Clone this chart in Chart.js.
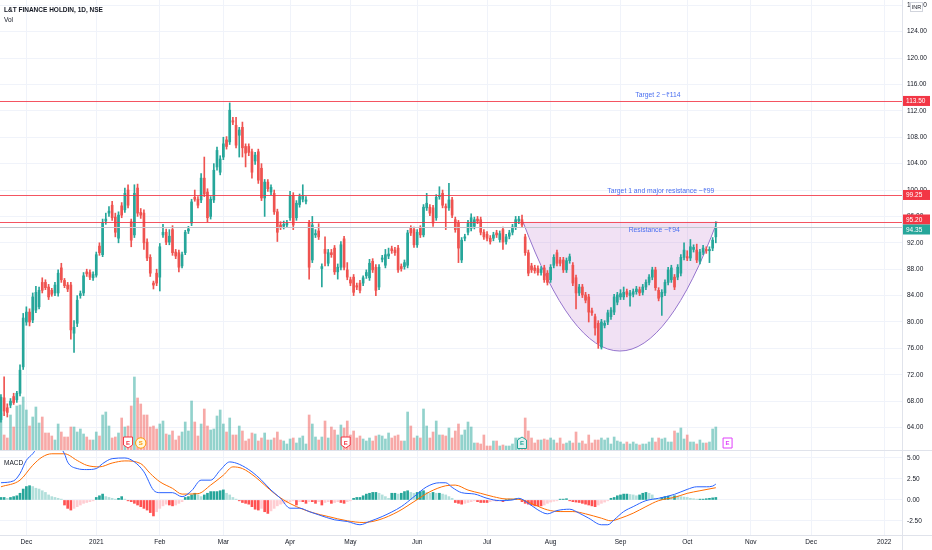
<!DOCTYPE html>
<html>
<head>
<meta charset="utf-8">
<script src="https://cdn.jsdelivr.net/npm/chart.js@4.4.0/dist/chart.umd.min.js"></script>
<style>
  html, body { margin: 0; padding: 0; background: #fff; }
  #wrap { position: relative; width: 932px; height: 550px; overflow: hidden; }
  #priceBox { position: absolute; left: 0; top: 0; width: 932px; height: 450px; }
  #macdBox { position: absolute; left: 0; top: 450px; width: 932px; height: 100px; }
</style>
</head>
<body>
<div id="wrap">
  <div id="priceBox"><canvas id="price"></canvas></div>
  <div id="macdBox"><canvas id="macd"></canvas></div>
</div>
<script>
// L&T Finance Holdings, daily, NSE - candles [open, high, low, close]
const ohlc = [
  [65.2,69.0,64.8,68.6],[68.5,71.7,65.8,66.5],[67.0,67.6,65.6,66.3],[67.4,68.4,67.0,68.0],[68.7,69.2,67.5,67.8],
  [68.2,69.5,67.8,69.2],[69.2,73.5,68.8,72.7],[73.2,81.3,72.8,80.6],[80.0,82.3,79.5,81.5],[81.5,82.0,79.4,80.0],
  [80.3,84.4,79.9,83.8],[81.8,85.4,81.4,84.5],[82.3,85.3,82.0,84.8],[86.0,86.7,84.4,84.8],[86.0,86.4,84.9,85.2],
  [85.3,85.7,83.4,83.8],[84.8,85.1,83.9,84.2],[84.4,86.0,84.0,85.6],[84.4,87.9,83.9,87.4],[88.2,88.9,86.0,86.4],
  [86.3,86.6,85.2,85.5],[85.6,86.0,84.6,85.0],[85.6,86.0,77.4,78.8],[78.3,80.2,75.4,79.2],[79.8,84.0,79.3,83.3],
  [84.0,84.7,83.6,84.3],[84.4,87.5,84.0,87.0],[87.6,88.0,86.9,87.3],[87.5,87.9,86.4,86.8],[86.7,87.6,86.3,87.2],
  [87.1,90.6,86.8,90.2],[91.5,92.0,90.1,90.5],[90.2,95.6,89.9,95.0],[95.3,96.5,94.8,95.6],[96.5,97.5,96.0,96.8],
  [97.7,98.3,95.4,95.8],[95.9,96.5,92.9,93.6],[92.7,96.7,92.0,96.2],[97.6,98.1,95.8,96.2],[97.0,100.3,96.6,99.5],
  [100.0,100.8,97.3,97.7],[95.2,95.6,91.4,92.4],[93.2,100.8,92.8,99.5],[100.3,100.9,96.0,96.5],[96.6,97.2,95.7,96.2],
  [96.5,97.0,91.0,92.0],[92.1,92.6,89.3,89.7],[89.8,90.2,86.9,87.4],[85.9,86.2,85.0,85.6],[87.4,88.0,85.5,85.9],
  [86.8,91.9,84.7,91.4],[93.2,94.8,92.8,93.6],[93.6,94.1,91.7,92.1],[92.1,94.0,91.7,93.0],[94.0,94.6,90.1,90.5],
  [90.6,91.0,89.6,90.0],[90.5,90.9,87.6,88.3],[88.5,90.6,88.2,90.2],[90.5,93.9,90.2,93.6],[93.8,94.5,93.4,94.1],
  [95.0,98.6,94.6,98.2],[98.9,100.0,98.3,98.6],[98.6,99.0,97.3,97.7],[98.5,102.5,98.1,101.8],[101.8,105.0,99.0,99.4],
  [99.7,100.2,95.2,95.8],[96.0,99.0,95.6,98.6],[98.5,104.0,98.1,103.0],[103.5,106.5,103.0,106.0],[102.7,105.2,102.3,104.7],
  [105.0,108.0,104.6,107.0],[107.6,108.1,106.2,106.6],[107.3,113.2,106.9,112.1],[110.5,111.0,109.9,110.3],[109.8,111.0,106.4,106.8],
  [108.3,109.5,105.0,109.1],[109.5,110.3,105.0,106.4],[106.6,107.0,103.5,105.6],[106.6,107.0,105.2,105.7],[105.8,106.2,101.8,102.7],
  [104.4,105.7,103.9,105.3],[105.8,106.2,101.0,101.5],[103.3,104.0,98.4,98.8],[98.8,101.6,96.0,101.2],[101.2,101.6,99.8,100.2],
  [99.7,100.8,99.3,100.4],[99.5,100.0,96.3,96.7],[96.7,97.1,92.2,93.6],[94.7,95.2,94.0,94.4],[94.5,95.3,94.1,94.8],
  [94.7,95.4,94.3,95.0],[95.8,99.8,95.4,99.2],[99.2,99.6,94.0,94.7],[95.8,98.4,95.4,98.0],[97.8,99.4,97.4,99.0],
  [98.6,100.8,98.2,99.2],[98.3,99.0,97.9,98.5],[95.0,95.4,86.5,88.3],[89.4,96.0,89.0,94.7],[93.2,94.0,92.8,93.4],
  [93.8,94.9,92.5,92.9],[88.1,88.8,85.3,88.4],[91.0,92.9,88.5,90.4],[88.9,91.0,88.5,90.5],[90.5,91.0,89.8,90.2],
  [91.2,91.6,87.2,87.6],[87.6,88.8,86.5,88.3],[88.3,92.2,87.9,91.7],[92.6,93.0,87.9,88.3],[87.9,89.0,86.4,86.8],
  [86.4,86.8,85.5,85.9],[86.8,87.2,84.0,84.5],[85.5,85.9,84.9,85.3],[85.9,86.3,84.4,84.8],[85.9,87.0,85.5,86.7],
  [87.0,87.9,86.6,87.5],[86.7,89.5,86.3,88.9],[89.2,89.6,87.5,87.9],[88.3,88.7,84.0,84.8],[85.3,88.7,84.9,88.3],
  [89.5,90.1,89.1,89.7],[88.6,91.0,88.2,90.2],[90.0,91.2,89.6,90.3],[91.1,91.5,90.4,90.8],[90.9,91.3,90.1,90.5],
  [91.2,91.6,87.5,87.9],[88.4,88.8,87.7,88.1],[88.4,89.4,88.0,89.0],[88.6,93.9,88.2,93.5],[94.2,94.6,93.1,93.5],
  [94.0,94.4,91.3,91.7],[91.7,94.0,91.3,93.6],[94.2,94.6,92.8,93.2],[93.2,97.8,92.9,97.4],[97.3,99.5,96.9,98.0],
  [97.4,97.8,96.1,96.5],[97.3,97.7,94.5,95.0],[95.8,99.3,95.4,98.9],[99.0,100.5,98.6,99.2],[99.5,100.0,97.3,97.7],
  [97.5,97.9,94.0,97.3],[97.3,101.0,96.9,98.5],[98.5,98.9,95.8,96.2],[95.5,95.9,93.6,94.0],[95.0,95.4,89.0,91.2],
  [89.4,92.8,89.0,92.4],[92.7,93.3,92.3,92.9],[93.6,95.4,93.2,95.0],[94.2,96.4,93.8,95.8],[94.5,95.9,94.1,95.5],
  [95.6,96.0,94.9,95.3],[95.5,95.9,93.2,93.6],[93.6,94.0,92.5,92.9],[93.3,93.7,92.3,92.7],[92.7,93.1,91.8,92.2],
  [92.7,93.6,92.3,93.2],[93.5,93.9,92.8,93.2],[92.5,93.8,92.1,93.4],[94.0,94.4,91.0,92.1],[92.2,93.3,91.8,92.9],
  [93.0,93.9,92.6,93.5],[93.6,94.8,93.2,94.4],[94.4,96.0,94.0,95.5],[95.3,96.0,94.9,95.6],[95.5,96.2,94.3,94.7],
  [92.9,93.3,90.1,90.5],[90.5,90.9,87.0,87.4],[88.5,88.9,87.5,87.9],[88.2,88.6,87.4,87.8],[88.1,88.5,87.1,87.5],
  [87.5,88.4,87.1,88.0],[88.2,88.6,86.0,86.4],[87.4,87.8,85.6,86.0],[86.4,88.7,86.0,88.3],[88.6,90.2,88.2,89.8],
  [90.5,90.9,88.5,88.9],[89.4,89.8,88.5,88.9],[89.4,89.8,87.5,87.9],[87.9,89.7,87.5,89.3],[89.3,90.3,88.9,89.9],
  [88.6,89.0,85.5,85.9],[86.7,87.1,82.0,84.4],[84.4,85.7,84.0,85.3],[85.3,85.7,83.7,84.1],[84.1,84.5,82.9,83.3],
  [83.8,84.2,80.0,81.5],[81.7,82.1,81.0,81.4],[80.8,81.2,78.0,79.1],[79.8,80.2,76.0,76.8],[76.2,80.4,75.9,80.0],
  [79.5,80.2,79.1,79.8],[80.0,81.8,79.6,81.4],[80.8,82.2,80.4,81.8],[81.5,84.2,81.1,83.8],[83.0,84.5,82.6,84.1],
  [83.8,84.9,83.4,84.3],[83.8,85.3,83.4,84.5],[84.6,85.0,83.8,84.2],[84.0,84.8,82.4,84.4],[84.2,85.0,83.8,84.6],
  [84.6,85.4,84.2,85.0],[84.9,85.3,84.0,84.4],[84.5,85.7,84.1,85.3],[85.3,86.4,84.9,86.0],[86.0,87.2,85.6,86.8],
  [86.8,88.3,86.4,87.9],[87.9,88.3,84.8,85.2],[84.8,85.2,83.2,83.6],[83.8,84.9,81.0,84.5],[84.4,86.4,84.0,86.0],
  [86.0,88.3,85.6,87.9],[86.4,88.6,86.0,88.2],[86.8,87.2,84.9,85.3],[86.8,88.7,86.4,88.3],[87.4,90.2,87.0,89.8],
  [89.8,92.0,89.4,90.9],[89.9,90.8,89.3,89.7],[89.7,92.5,89.3,91.4],[91.0,91.7,90.6,91.3],[90.9,91.8,89.0,89.4],
  [89.2,91.0,88.8,90.6],[90.6,91.6,90.2,91.2],[91.0,91.4,90.4,90.8],[90.8,91.4,89.0,91.0],[91.2,92.8,90.8,92.4],
  [92.9,95.2,92.0,94.35]
];

// volume (lakh shares)
const volume = [
  37,15,12,35,23,44,45,53,40,24, 33,43,27,33,17,17,14,10,26,18,
  13,13,23,23,18,21,16,13,10,10, 18,14,35,38,24,12,13,17,32,23,
  24,44,73,52,46,35,35,23,24,21, 26,29,16,15,19,10,14,18,28,19,
  49,28,14,26,41,24,20,21,34,40, 26,18,32,15,15,24,19,9,11,17,
  16,9,12,17,10,10,12,18,10,9, 6,11,12,7,12,14,6,35,26,13,
  10,13,29,12,23,20,15,25,22,29, 15,19,12,14,11,9,12,9,14,15,
  14,11,17,12,14,15,9,9,38,24, 12,14,12,41,24,12,18,29,15,15,
  14,22,12,19,26,15,20,28,23,7, 7,6,15,4,4,9,9,4,5,4,
  4,6,12,12,12,32,19,12,7,10, 10,11,10,12,10,7,12,6,7,9,
  7,18,7,9,6,15,7,10,10,12, 10,12,6,13,9,8,6,8,6,8,
  6,5,6,6,8,12,8,12,11,12, 8,8,19,17,22,11,15,8,8,6,
  10,7,7,8,21,23
];

// MACD histogram, one per candle
const macdHist = [
  0.3,0.3,0.2,0.3,0.4,0.5,0.8,1.3,1.6,1.7, 1.6,1.4,1.3,1.1,0.9,0.6,0.4,0.3,0.2,0.1,
  -0.6,-1.0,-1.2,-1.0,-0.8,-0.6,-0.4,-0.3,-0.2,-0.1, 0.3,0.5,0.7,0.4,0.3,0.2,0.1,0.2,0.4,0.1,
  -0.1,-0.2,-0.4,-0.6,-0.8,-1.0,-1.2,-1.5,-1.9,-1.4, -1.0,-0.7,-0.5,-0.6,-0.7,-0.6,-0.4,-0.2,0.3,0.4,
  0.6,0.8,0.6,0.4,0.6,0.8,1.0,1.0,1.0,1.1, 1.2,0.8,0.6,0.3,0.1,-0.1,-0.3,-0.4,-0.5,-0.8,
  -1.1,-1.2,-1.0,-1.4,-1.6,-1.3,-1.0,-0.7,-0.5,-0.4, -0.3,-0.2,-0.1,-0.6,-0.2,-0.2,-0.4,-0.2,-0.2,-0.4,
  -0.2,-0.6,-0.3,-0.2,-0.4,-0.3,-0.2,-0.3,-0.4,-0.2, -0.1,0.2,0.3,0.3,0.5,0.7,0.8,0.9,0.9,0.8,
  0.6,0.4,0.2,0.8,0.8,0.7,0.8,1.0,1.1,0.9, 0.8,0.9,1.0,1.1,0.9,0.8,0.9,0.8,0.8,0.7,
  0.6,0.4,0.2,-0.3,-0.4,-0.5,-0.4,-0.3,-0.2,-0.1, -0.2,-0.3,-0.3,-0.3,-0.2,-0.1,-0.1,-0.05,-0.2,0.05,
  0.1,0.1,0.15,0.1,-0.2,-0.4,-0.5,-0.6,-0.7,-0.7, -0.7,-0.6,-0.4,-0.25,-0.15,-0.1,0.1,0.1,0.15,-0.1,
  -0.2,-0.25,-0.3,-0.4,-0.5,-0.6,-0.7,-0.8,-0.6,-0.4, -0.25,-0.1,0.2,0.3,0.5,0.6,0.7,0.7,0.65,0.6,
  0.5,0.6,0.8,0.9,0.8,0.6,0.2,0.1,0.3,0.4, 0.45,0.4,0.5,0.45,0.4,0.35,0.3,0.2,0.15,0.1,
  0.1,0.1,0.15,0.2,0.25,0.3
];

const macdLine = [
  [1,2.05],[5,2.28],[7,3.15],[9,4.72],[11,5.5],[13,6.5],[16,7.0],[19,6.5],[21,5.5],[22,4.5],
  [25,3.74],[28,3.62],[31,3.74],[33,4.33],[36,4.92],[40,5.0],[43,4.53],[46,3.35],[49,1.18],[51,0.87],
  [55,0.87],[58,0.39],[61,1.1],[64,2.36],[67,2.36],[70,3.54],[73,4.53],[76,4.25],[80,3.35],[83,2.36],
  [86,1.18],[89,0.2],[92,-0.98],[95,-0.98],[98,-1.38],[101,-1.77],[106,-2.36],[110,-2.56],[114,-2.95],[117,-2.56],
  [121,-1.97],[127,-0.79],[131,0.39],[135,1.57],[139,2.05],[141,2.05],[143,1.5],[146,0.87],[150,0.71],[154,0.2],
  [158,-0.08],[162,0],[164,0.2],[167,-0.39],[170,-1.18],[173,-1.65],[176,-1.26],[180,-1.1],[183,-1.57],[186,-2.17],
  [190,-2.95],[192,-2.95],[194,-2.36],[197,-1.38],[200,-0.79],[204,-0.08],[208,0.2],[213,0.67],[217,1.26],[220,1.57],
  [223,1.57],[225,1.65],[226,1.89]
];
const signalLine = [
  [1,1.57],[7,2.36],[11,4.13],[14,5.12],[17,5.5],[21,5.5],[25,4.7],[28,4.13],[32,3.94],[36,4.4],
  [40,4.65],[45,4.33],[48,3.15],[51,2.17],[55,1.38],[58,0.7],[63,0.75],[67,1.77],[71,2.95],[74,3.94],
  [77,3.74],[81,2.76],[84,1.77],[87,0.79],[90,0],[94,-0.79],[99,-1.5],[104,-1.97],[110,-2.48],[115,-2.68],
  [120,-2.36],[126,-1.38],[131,-0.2],[136,0.98],[141,1.69],[144,1.77],[148,1.18],[152,0.79],[156,0.39],[160,0.12],
  [164,0.08],[169,-0.59],[173,-1.18],[177,-1.38],[181,-1.38],[185,-1.65],[190,-2.17],[193,-2.48],[196,-2.17],[200,-1.57],
  [204,-0.79],[208,-0.08],[213,0.31],[217,0.79],[221,1.1],[226,1.46]
];

// time axis labels: [candle number, label]
const monthTicks = [
  [9,'Dec'],[31,'2021'],[51,'Feb'],[71,'Mar'],[92,'Apr'],[111,'May'],[132,'Jun'],
  [154,'Jul'],[174,'Aug'],[196,'Sep'],[217,'Oct'],[237,'Nov'],[256,'Dec'],[279,'2022']
];

// drawn levels and notes
const levels = [113.5, 99.25, 95.2];
const notes = [
  ['Target 2 ~₹114', 207.8, 114.4],
  ['Target 1 and major resistance ~₹99', 208.7, 99.85],
  ['Resistance ~₹94', 206.6, 93.95]
];
// cup: start, bottom, end as [candle number, price]
const cup = [[165.3, 95.2], [195.8, 75.6], [226.4, 95.2]];
// events: [candle number, letter, kind]
const events = [[41,'E','earn'],[45,'S','div'],[109.5,'E','earn'],[165,'E','earnUp'],[229.7,'E','next']];

const FONT = '"Liberation Sans", Arial, sans-serif';
const UP = '#26a69a', DOWN = '#ef5350';
const X_MIN = 0.7, X_MAX = 284.6;
const AXIS_W = 30;

Chart.defaults.font.family = FONT;
Chart.defaults.font.size = 6.5;
Chart.defaults.color = '#131722';
Chart.defaults.animation = false;

const isUp = ohlc.map(c => c[3] >= c[0]);
const lastClose = ohlc[ohlc.length - 1][3];

// keep the plot area flush with the canvas edges
function noPad(s) {
  s.paddingTop = 0; s.paddingBottom = 0; s.paddingLeft = 0; s.paddingRight = 0;
}

function monthAxis(showLabels) {
  return {
    type: 'linear', min: X_MIN, max: X_MAX, offset: false,
    afterBuildTicks: s => { s.ticks = monthTicks.map(m => ({ value: m[0] })); },
    afterFit: s => { s.height = showLabels ? 15 : 0; noPad(s); },
    grid: { color: '#f0f3fa', drawTicks: false, offset: false },
    border: { display: false },
    ticks: {
      display: showLabels, autoSkip: false, maxRotation: 0, padding: 3,
      callback: v => { const m = monthTicks.find(t => t[0] === v); return m ? m[1] : ''; }
    }
  };
}

function tag(ctx, y, text, bg, left) {
  ctx.fillStyle = bg;
  ctx.fillRect(left, y - 5, 27, 10);
  ctx.fillStyle = '#fff';
  ctx.font = '6.5px ' + FONT;
  ctx.textAlign = 'left';
  ctx.textBaseline = 'middle';
  ctx.fillText(text, left + 3, y + 0.5);
}

function badge(ctx, cx, bottom, letter, kind) {
  const t = bottom - 12, w = 4.5;
  let stroke = '#f23645', fill = '#fff';
  ctx.beginPath();
  if (kind === 'earn') {
    ctx.moveTo(cx - w, t); ctx.lineTo(cx + w, t); ctx.lineTo(cx + w, t + 8);
    ctx.lineTo(cx, t + 11); ctx.lineTo(cx - w, t + 8); ctx.closePath();
  } else if (kind === 'earnUp') {
    stroke = UP; fill = '#e0f2f1';
    ctx.moveTo(cx, t); ctx.lineTo(cx + w, t + 3); ctx.lineTo(cx + w, t + 11.5);
    ctx.lineTo(cx - w, t + 11.5); ctx.lineTo(cx - w, t + 3); ctx.closePath();
  } else if (kind === 'div') {
    stroke = '#ff9800'; fill = '#fff8e1';
    ctx.arc(cx, t + 6, 5.2, 0, Math.PI * 2);
  } else {
    stroke = '#e040fb';
    ctx.rect(cx - w, t + 1, w * 2, 10);
  }
  ctx.fillStyle = fill; ctx.fill();
  ctx.strokeStyle = stroke; ctx.lineWidth = 1; ctx.stroke();
  ctx.fillStyle = stroke;
  ctx.font = 'bold 6px ' + FONT;
  ctx.textAlign = 'center'; ctx.textBaseline = 'middle';
  ctx.fillText(letter, cx, t + 6);
}

const priceOverlay = {
  id: 'priceOverlay',
  beforeDatasetsDraw(chart) {
    const { ctx, scales: { x, y } } = chart;
    const p = cup.map(c => [x.getPixelForValue(c[0]), y.getPixelForValue(c[1])]);
    const cx = 2 * p[1][0] - (p[0][0] + p[2][0]) / 2;
    const cy = 2 * p[1][1] - (p[0][1] + p[2][1]) / 2;
    ctx.save();
    ctx.beginPath();
    ctx.moveTo(p[0][0], p[0][1]);
    ctx.quadraticCurveTo(cx, cy, p[2][0], p[2][1]);
    ctx.closePath();
    ctx.fillStyle = 'rgba(186, 104, 200, 0.2)';
    ctx.fill();
    ctx.beginPath();
    ctx.moveTo(p[0][0], p[0][1]);
    ctx.quadraticCurveTo(cx, cy, p[2][0], p[2][1]);
    ctx.strokeStyle = '#9575cd';
    ctx.lineWidth = 1;
    ctx.stroke();
    ctx.restore();
  },
  afterDatasetsDraw(chart) {
    const { ctx, scales: { x, y }, chartArea: a } = chart;
    ctx.save();
    // current price line
    const yl = Math.round(y.getPixelForValue(lastClose)) + 0.5;
    ctx.strokeStyle = '#c3c6ce'; ctx.lineWidth = 1;
    ctx.beginPath(); ctx.moveTo(a.left, yl); ctx.lineTo(a.right, yl); ctx.stroke();
    // horizontal levels
    ctx.strokeStyle = 'rgba(242, 54, 69, 0.85)';
    levels.forEach(v => {
      const yy = Math.round(y.getPixelForValue(v)) + 0.5;
      ctx.beginPath(); ctx.moveTo(a.left, yy); ctx.lineTo(a.right, yy); ctx.stroke();
    });
    // notes
    ctx.fillStyle = '#4a6ff0';
    ctx.font = '6.8px ' + FONT;
    ctx.textAlign = 'center'; ctx.textBaseline = 'middle';
    notes.forEach(n => ctx.fillText(n[0], x.getPixelForValue(n[1]), y.getPixelForValue(n[2])));
    // events
    events.forEach(e => badge(ctx, x.getPixelForValue(e[0]), a.bottom - 1, e[1], e[2]));
    // titles
    ctx.fillStyle = '#131722';
    ctx.textAlign = 'left';
    ctx.font = '600 6.5px ' + FONT;
    ctx.fillText('L&T FINANCE HOLDIN, 1D, NSE', 4, 10);
    ctx.font = '6.5px ' + FONT;
    ctx.fillText('Vol', 4, 20);
    ctx.restore();
  },
  afterDraw(chart) {
    const { ctx, scales: { y }, chartArea: a } = chart;
    ctx.save();
    const tags = levels.map(v => ({ v, c: '#f23645' }));
    tags.push({ v: lastClose, c: UP });
    tags.forEach(t => { t.y = y.getPixelForValue(t.v); });
    tags.sort((p, q) => p.y - q.y);
    for (let i = 1; i < tags.length; i++) {
      const gap = tags[i].y - tags[i - 1].y;
      if (gap < 10) {
        const d = (10 - gap) / 2;
        tags[i - 1].y -= d; tags[i].y += d;
      }
    }
    tags.forEach(t => tag(ctx, t.y, t.v.toFixed(2), t.c, a.right + 1));
    // currency box
    ctx.fillStyle = '#fff';
    ctx.fillRect(a.right + 8, 2, 13, 10);
    ctx.strokeStyle = '#d1d4dc'; ctx.lineWidth = 1;
    ctx.strokeRect(a.right + 8.5, 2.5, 12, 9);
    ctx.fillStyle = '#131722';
    ctx.font = '5.5px ' + FONT;
    ctx.textAlign = 'center'; ctx.textBaseline = 'middle';
    ctx.fillText('INR', a.right + 14.5, 7.5);
    ctx.restore();
  }
};

new Chart(document.getElementById('price'), {
  type: 'bar',
  data: {
    datasets: [
      {
        label: 'Body', order: 1, grouped: false, barThickness: 2, minBarLength: 1,
        data: ohlc.map((c, i) => ({ x: i + 1, y: [c[0], c[3]] })),
        backgroundColor: isUp.map(u => u ? UP : DOWN)
      },
      {
        label: 'Wick', order: 2, grouped: false, barThickness: 1,
        data: ohlc.map((c, i) => ({ x: i + 1, y: [c[2], c[1]] })),
        backgroundColor: isUp.map(u => u ? UP : DOWN)
      },
      {
        label: 'Vol', order: 3, grouped: false, barThickness: 2, yAxisID: 'yv',
        data: volume.map((v, i) => ({ x: i + 1, y: v })),
        backgroundColor: isUp.map(u => u ? 'rgba(38,166,154,0.5)' : 'rgba(239,83,80,0.5)')
      }
    ]
  },
  options: {
    responsive: true,
    maintainAspectRatio: false,
    layout: { padding: 0 },
    plugins: { legend: { display: false }, tooltip: { enabled: false } },
    scales: {
      x: monthAxis(false),
      y: {
        position: 'right', min: 60.6, max: 128.8,
        afterFit: s => { s.width = AXIS_W; noPad(s); },
        grid: { color: '#f0f3fa', drawTicks: false },
        border: { display: true, color: '#e0e3eb' },
        ticks: { stepSize: 4, includeBounds: false, padding: 5, callback: v => v.toFixed(2) }
      },
      yv: { display: false, min: 0, max: 450 }
    }
  },
  plugins: [priceOverlay]
});

const histColors = macdHist.map((h, i) => {
  const prev = i > 0 ? macdHist[i - 1] : 0;
  if (h >= 0) return h >= prev ? '#26a69a' : '#b2dfdb';
  return h <= prev ? '#ff5252' : '#ffcdd2';
});

const macdOverlay = {
  id: 'macdOverlay',
  afterDraw(chart) {
    const { ctx, chartArea: a, width, height } = chart;
    ctx.save();
    ctx.strokeStyle = '#e0e3eb'; ctx.lineWidth = 1;
    ctx.beginPath();
    ctx.moveTo(0, 0.5); ctx.lineTo(width, 0.5);
    ctx.moveTo(0, Math.round(a.bottom) + 0.5); ctx.lineTo(width, Math.round(a.bottom) + 0.5);
    ctx.moveTo(Math.round(a.right) + 0.5, 0); ctx.lineTo(Math.round(a.right) + 0.5, height);
    ctx.stroke();
    ctx.fillStyle = '#131722';
    ctx.font = '6.5px ' + FONT;
    ctx.textAlign = 'left'; ctx.textBaseline = 'middle';
    ctx.fillText('MACD', 4, 13);
    ctx.restore();
  }
};

new Chart(document.getElementById('macd'), {
  type: 'bar',
  data: {
    datasets: [
      {
        type: 'line', label: 'MACD', order: 1,
        data: macdLine.map(p => ({ x: p[0], y: p[1] })),
        borderColor: '#2962ff', borderWidth: 1, pointRadius: 0, cubicInterpolationMode: 'monotone'
      },
      {
        type: 'line', label: 'Signal', order: 2,
        data: signalLine.map(p => ({ x: p[0], y: p[1] })),
        borderColor: '#ff6d00', borderWidth: 1, pointRadius: 0, cubicInterpolationMode: 'monotone'
      },
      {
        label: 'Histogram', order: 3, grouped: false, barThickness: 2,
        data: macdHist.map((h, i) => ({ x: i + 1, y: h })),
        backgroundColor: histColors
      }
    ]
  },
  options: {
    responsive: true,
    maintainAspectRatio: false,
    layout: { padding: 0 },
    plugins: { legend: { display: false }, tooltip: { enabled: false } },
    scales: {
      x: monthAxis(true),
      y: {
        position: 'right', min: -4.17, max: 5.95,
        afterFit: s => { s.width = AXIS_W; noPad(s); },
        grid: { color: '#f0f3fa', drawTicks: false },
        border: { display: false },
        ticks: { stepSize: 2.5, includeBounds: false, padding: 5, callback: v => v.toFixed(2) }
      }
    }
  },
  plugins: [macdOverlay]
});
</script>
</body>
</html>
